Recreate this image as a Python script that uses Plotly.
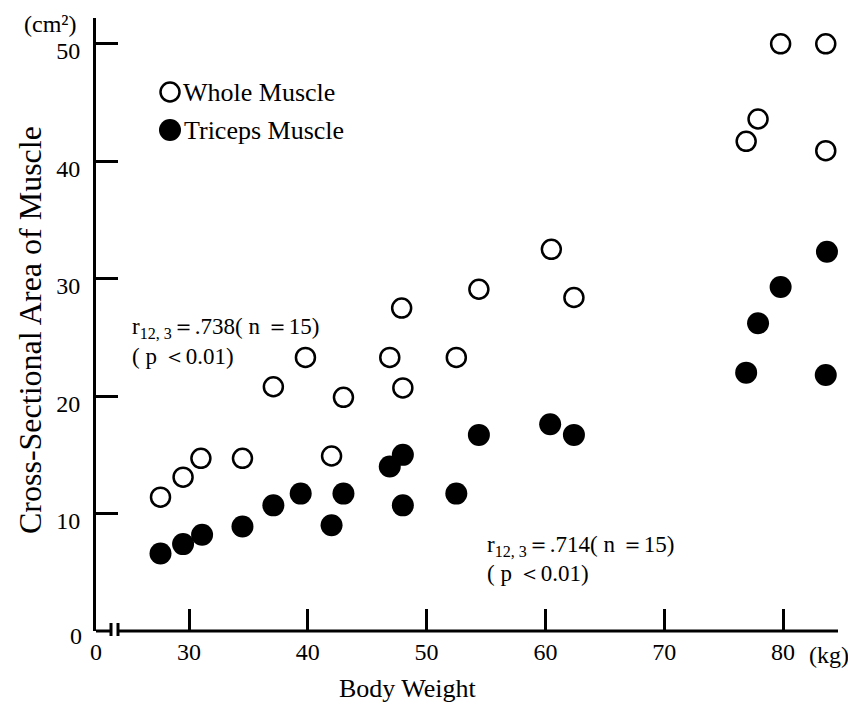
import plotly.graph_objects as go

# Body weight (kg) and cross-sectional area (cm²) of the upper arm
whole_weight = [27.6, 29.5, 31.0, 34.5, 37.1, 39.8, 42.0, 43.0, 46.9, 48.0,
                47.9, 52.5, 54.4, 60.5, 62.4, 76.9, 77.9, 79.8, 83.6, 83.6]
whole_area = [11.4, 13.1, 14.7, 14.7, 20.8, 23.3, 14.9, 19.9, 23.3, 20.7,
              27.5, 23.3, 29.1, 32.5, 28.4, 41.7, 43.6, 50.0, 50.0, 40.9]

triceps_weight = [27.6, 29.5, 31.1, 34.5, 37.1, 39.4, 43.0, 42.0, 46.9, 48.0,
                  48.0, 52.5, 54.4, 60.4, 62.4, 76.9, 77.9, 79.8, 83.7, 83.6]
triceps_area = [6.6, 7.4, 8.2, 8.9, 10.7, 11.7, 11.7, 9.0, 14.0, 15.0,
                10.7, 11.7, 16.7, 17.6, 16.7, 22.0, 26.2, 29.3, 32.3, 21.8]

x_ticks = [30, 40, 50, 60, 70, 80]
y_ticks = [10, 20, 30, 40, 50]
X_MIN, X_MAX = 22.17, 84.63   # left end is the broken part of the axis ("0")
Y_MAX = 52.2

SERIF = "Liberation Serif, Times New Roman, serif"
W, H = 848, 704
ML, MR, MT, MB = 96, 10, 18, 73
PW, PH = W - ML - MR, H - MT - MB


def px(x):
    return (x - ML) / PW


def py(y):
    return (H - MB - y) / PH


fig = go.Figure()
fig.add_trace(go.Scatter(
    x=whole_weight, y=whole_area, mode="markers", name="Whole Muscle",
    marker=dict(symbol="circle", size=19, color="white",
                line=dict(color="black", width=2.5)),
))
fig.add_trace(go.Scatter(
    x=triceps_weight, y=triceps_area, mode="markers", name="Triceps Muscle",
    marker=dict(symbol="circle", size=22, color="black",
                line=dict(color="black", width=0)),
))

shapes = []
line_style = dict(color="black", width=3)
# x axis with a break next to the origin
shapes.append(dict(type="line", xref="paper", yref="paper",
                   x0=0, x1=px(111), y0=0, y1=0, line=line_style))
shapes.append(dict(type="line", xref="paper", yref="paper",
                   x0=px(118), x1=1, y0=0, y1=0, line=line_style))
for bx in (111, 118):
    shapes.append(dict(type="line", xref="paper", yref="paper",
                       x0=px(bx), x1=px(bx), y0=py(623), y1=py(636),
                       line=line_style))

# legend symbols
shapes.append(dict(type="circle", xref="paper", yref="paper",
                   x0=px(160.5), x1=px(179.5), y0=py(101.5), y1=py(82.5),
                   line=dict(color="black", width=2.5), fillcolor="white"))
shapes.append(dict(type="circle", xref="paper", yref="paper",
                   x0=px(159), x1=px(181), y0=py(141), y1=py(119),
                   line=dict(color="black", width=0), fillcolor="black"))

font = dict(family=SERIF, size=24, color="black")


def note(text, x, y, size=22, xanchor="center", **kw):
    return dict(text=text, xref="paper", yref="paper", x=px(x), y=py(y),
                xanchor=xanchor, yanchor="middle", showarrow=False,
                font=dict(family=SERIF, size=size, color="black"), **kw)


annotations = [
    note("Cross-Sectional Area of Muscle", 30, 330, size=32, textangle=-90),
    note("Body Weight", 408, 689, size=26),
    note("(cm²)", 50, 24, size=24),
    note("(kg)", 829, 655, size=24),
    note("0", 76, 636, size=24),
    note("Whole Muscle", 181, 93, size=26, xanchor="left"),
    note("Triceps Muscle", 182, 131, size=26, xanchor="left"),
    note("r<sub>12, 3</sub>＝.738( n ＝15)", 130, 328, size=23, xanchor="left"),
    note("( p ＜0.01)", 130, 356, size=23, xanchor="left"),
    note("r<sub>12, 3</sub>＝.714( n ＝15)", 485, 546, size=23, xanchor="left"),
    note("( p ＜0.01)", 485, 573, size=23, xanchor="left"),
]

fig.update_layout(
    width=W, height=H,
    margin=dict(l=ML, r=MR, t=MT, b=MB),
    paper_bgcolor="white", plot_bgcolor="white",
    showlegend=False,
    shapes=shapes, annotations=annotations,
    xaxis=dict(range=[X_MIN, X_MAX], showgrid=False, zeroline=False,
               showline=False, ticks="inside", ticklen=22, tickwidth=3,
               tickcolor="black", tickvals=[X_MIN] + x_ticks,
               ticktext=["0"] + [str(v) for v in x_ticks],
               tickfont=font, ticklabelstandoff=4),
    yaxis=dict(range=[0, Y_MAX], showgrid=False, zeroline=False,
               showline=True, linewidth=3, linecolor="black",
               ticks="inside", ticklen=22, tickwidth=3, tickcolor="black",
               tickvals=y_ticks, tickfont=font, ticklabelstandoff=8,
               ticklabelshift=7),
)

fig.write_html("out.html")
